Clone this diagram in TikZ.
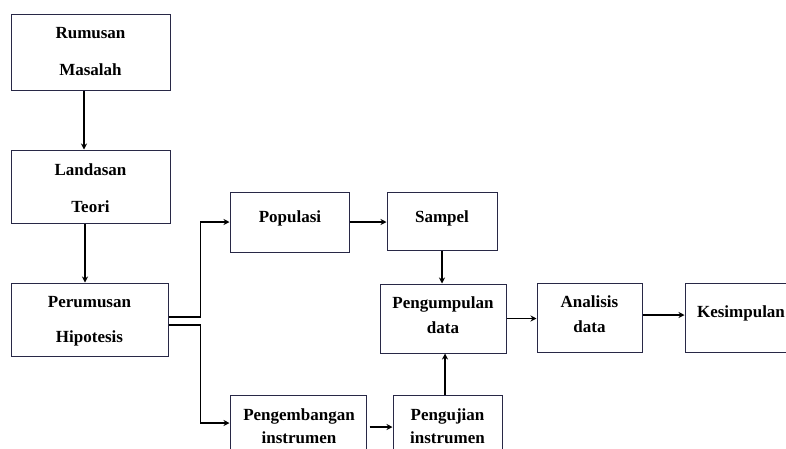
\documentclass[tikz,border=0pt]{standalone}
\usepackage{fontspec}
\setmainfont{Liberation Serif}
\usetikzlibrary{arrows.meta}
\definecolor{boxcol}{RGB}{40,40,70}
\tikzset{
  box/.style={draw=boxcol, line width=1pt, inner sep=0pt, rectangle},
  txt/.style={font=\bfseries\fontsize{17}{20}\selectfont, inner sep=0pt, anchor=base, text=black},
  arr/.style={line width=1.4pt, -{Stealth[length=6pt,width=6pt]}},
  link/.style={line width=1.4pt}
}
\begin{document}
\begin{tikzpicture}[x=1pt,y=-1pt]
\useasboundingbox (0,0) rectangle (786,448);
\clip (0,0) rectangle (786,448);
\fill[white] (0,0) rectangle (786,448);
% boxes
\node[box, minimum width=159, minimum height=76] (rm) at (90.5,52) {};
\node[box, minimum width=159, minimum height=73] (lt) at (90.5,186.5) {};
\node[box, minimum width=157, minimum height=73] (ph) at (89.5,319.5) {};
\node[box, minimum width=119, minimum height=60] (pop) at (289.5,222) {};
\node[box, minimum width=110, minimum height=58] (sam) at (442,221) {};
\node[box, minimum width=126, minimum height=69] (pd) at (443,318.5) {};
\node[box, minimum width=105, minimum height=69] (ad) at (589.5,317.5) {};
\node[box, minimum width=145, minimum height=69] (ks) at (757.5,317.5) {};
\node[box, minimum width=136, minimum height=75] (pgi) at (298,432.5) {};
\node[box, minimum width=109, minimum height=75] (pji) at (447.5,432.5) {};
% texts
\node[txt] (t1) at (90.5,38) {Rumusan};
\node[txt] (t2) at (90.5,75) {Masalah};
\node[txt] (t3) at (90.5,175) {Landasan};
\node[txt] (t4) at (90.5,212) {Teori};
\node[txt] (t5) at (89.5,307) {Perumusan};
\node[txt] (t6) at (89.5,342) {Hipotesis};
\node[txt] (t7) at (290,222) {Populasi};
\node[txt] (t8) at (442,222) {Sampel};
\node[txt] (t9) at (443,308) {Pengumpulan};
\node[txt] (t10) at (443,333) {data};
\node[txt] (t11) at (589.5,307) {Analisis};
\node[txt] (t12) at (589.5,332) {data};
\node[txt] (t13) at (741,317) {Kesimpulan};
\node[txt] (t14) at (299,420) {Pengembangan};
\node[txt] (t15) at (299,443) {instrumen};
\node[txt] (t16) at (447.5,420) {Pengujian};
\node[txt] (t17) at (447.5,443) {instrumen};
% connectors
\draw[arr] ([xshift=-6.5pt]rm.south) -- ([xshift=-6.5pt]lt.north);
\draw[arr] ([xshift=-5.5pt]lt.south) -- ([xshift=-4.5pt]ph.north);
\draw[arr] ([yshift=2.5pt]ph.east) -- ++(32,0) |- (pop.west);
\draw[arr] ([yshift=-5.5pt]ph.east) -- ++(32,0) |- ([yshift=9.5pt]pgi.west);
\draw[arr] (pop.east) -- (pop.east -| sam.west);
\draw[arr] (sam.south) -- (sam.south |- pd.north);
\draw[arr] ([xshift=-2.5pt]pji.north) -- ([xshift=-2.5pt]pji.north |- pd.south);
\draw[arr] ([yshift=5.5pt,xshift=3pt]pgi.east) -- ([yshift=5.5pt]pgi.east -| pji.west);
\draw[arr] (pd.east) -- (pd.east -| ad.west);
\draw[arr] ([yshift=2.5pt]ad.east) -- ([yshift=2.5pt]ad.east -| ks.west);
\end{tikzpicture}
\end{document}
